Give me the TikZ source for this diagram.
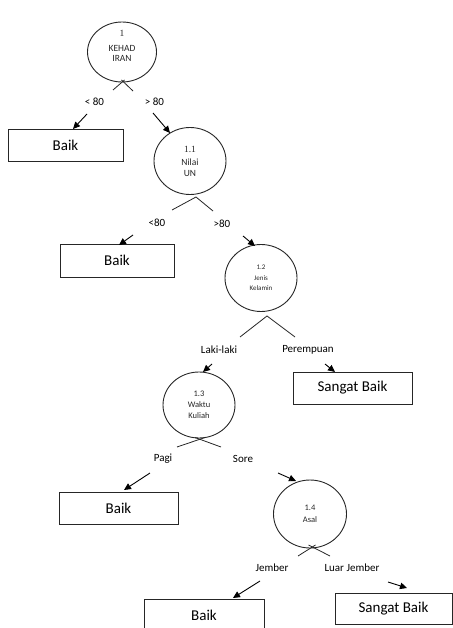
\documentclass[tikz,border=0pt]{standalone}
\usepackage{fontspec}
\setmainfont{Carlito}
\newfontfamily\numfont{Liberation Serif}
\usetikzlibrary{shapes.geometric,arrows.meta}
\begin{document}
\begin{tikzpicture}[x=1pt,y=-1pt,
  decision/.style={ellipse,draw=black!85,line width=0.9pt,inner sep=0pt,minimum width=72pt,minimum height=67pt},
  leaf/.style={draw=black!85,line width=0.9pt,inner sep=0pt,font=\fontsize{15}{18}\selectfont},
  branch/.style={font=\fontsize{11}{13}\selectfont,inner sep=0pt},
  intext/.style={align=center,inner sep=0pt,text=black!85},
  fork/.style={line width=0.8pt,draw=black!85},
  arr/.style={line width=0.9pt,-{Triangle[length=7pt,width=6.5pt]}}
]
\useasboundingbox (0,0) rectangle (452,628);

% decision nodes
\node[decision,minimum width=69pt,minimum height=60pt] (c1) at (122,52) {};
\node[decision] (c11) at (190,161) {};
\node[decision] (c12) at (261,278) {};
\node[decision,minimum height=66pt] (c13) at (199,405) {};
\node[decision,minimum width=73pt,minimum height=68pt] (c14) at (310,514) {};

% texts inside the decision nodes
\node[intext,font=\fontsize{9.5}{10.5}\selectfont] (t1) at ([yshift=6pt]c1.center) {{\numfont 1}\\[4pt]KEHAD\\IRAN};
\node[intext,font=\fontsize{9.5}{10.5}\selectfont] (t11) at (c11.center) {{\numfont 1.1}\\[3pt]Nilai\\UN};
\node[intext,font=\fontsize{7}{10.5}\selectfont] (t12) at (c12.center) {1.2\\Jenis\\Kelamin};
\node[intext,font=\fontsize{8.5}{11}\selectfont] (t13) at (c13.center) {1.3\\Waktu\\Kuliah};
\node[intext,font=\fontsize{8.5}{12}\selectfont] (t14) at (c14.center) {1.4\\Asal};

% leaves
\node[leaf,minimum width=115pt,minimum height=32pt] (b1) at (65.5,145) {Baik};
\node[leaf,minimum width=114pt,minimum height=33pt] (b2) at (117,260.5) {Baik};
\node[leaf,minimum width=119pt,minimum height=32pt] (s1) at (352.5,388) {Sangat Baik};
\node[leaf,minimum width=119pt,minimum height=32pt] (b3) at (118.5,508) {Baik};
\node[leaf,minimum width=120pt,minimum height=32pt] (b4) at (204,615) {Baik};
\node[leaf,minimum width=117pt,minimum height=31pt] (s2) at (393.5,608.5) {Sangat Baik};

% branch labels
\node[branch] (l1a) at (94.5,102) {< 80};
\node[branch] (l1b) at (154.5,102) {> 80};
\node[branch] (l2a) at (157,223) {<80};
\node[branch] (l2b) at (222,224) {>80};
\node[branch] (l3a) at (219,350) {Laki-laki};
\node[branch] (l3b) at (308,350) {Perempuan};
\node[branch] (l4a) at (163,459) {Pagi};
\node[branch] (l4b) at (243,459) {Sore};
\node[branch] (l5a) at (272,568) {Jember};
\node[branch] (l5b) at (352,568) {Luar Jember};

% forks under the decision nodes
\coordinate (f1l) at (113,90);  \coordinate (f1r) at (133,91);
\coordinate (f1x) at (124.5,80); \coordinate (f1y) at (121.5,80);
\draw[fork] (f1l) -- (f1x);
\draw[fork] (f1r) -- (f1y);

\coordinate (f2l) at (172,210); \coordinate (f2a) at (196,197); \coordinate (f2r) at (213,211);
\draw[fork] (f2l) -- (f2a) -- (f2r);

\coordinate (f3l) at (240,337); \coordinate (f3a) at (267,316); \coordinate (f3r) at (295,337);
\draw[fork] (f3l) -- (f3a) -- (f3r);

\coordinate (f4l) at (177,447); \coordinate (f4r) at (221,447);
\coordinate (f4x) at (205,437.5); \coordinate (f4y) at (195,437.5);
\draw[fork] (f4l) -- (f4x);
\draw[fork] (f4r) -- (f4y);

\coordinate (f5l) at (298,556); \coordinate (f5r) at (330,556);
\coordinate (f5x) at (315.5,545); \coordinate (f5y) at (308.5,545);
\draw[fork] (f5l) -- (f5x);
\draw[fork] (f5r) -- (f5y);

% arrows towards the children
\coordinate (a1s) at (87,114);  \coordinate (a1e) at (73,129);
\coordinate (a2s) at (153,113); \coordinate (a2e) at (170,133);
\coordinate (a3s) at (133,235); \coordinate (a3e) at (119,245);
\coordinate (a4s) at (243,236); \coordinate (a4e) at (255,246);
\coordinate (a5s) at (212,364); \coordinate (a5e) at (203,372);
\coordinate (a6s) at (325,364); \coordinate (a6e) at (335,372);
\coordinate (a7s) at (150,473); \coordinate (a7e) at (124,490);
\coordinate (a8s) at (278,473); \coordinate (a8e) at (296,481);
\coordinate (a9s) at (260,581); \coordinate (a9e) at (233,598);
\coordinate (a10s) at (388,582); \coordinate (a10e) at (407,588);
\foreach \i in {1,...,10} {\draw[arr] (a\i s) -- (a\i e);}
\end{tikzpicture}
\end{document}
